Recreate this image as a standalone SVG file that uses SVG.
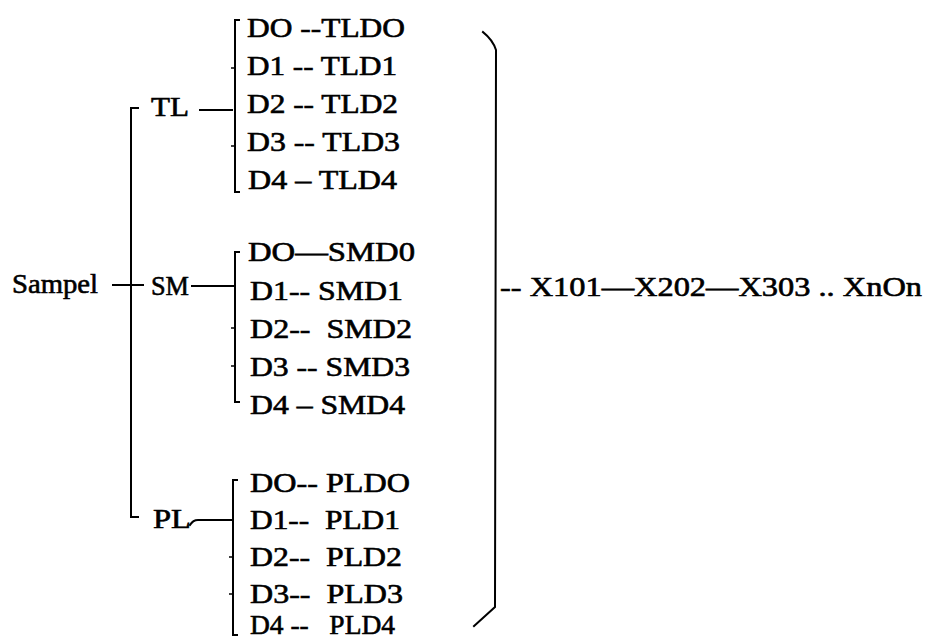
<svg xmlns="http://www.w3.org/2000/svg" width="927" height="637" viewBox="0 0 927 637">
  <style>
    text { font-family: "Liberation Serif", "Times New Roman", serif; font-size: 27px; fill: #000; stroke: #000; stroke-width: 0.6; white-space: pre; }
    .ln { fill: none; stroke: #000; stroke-width: 2; stroke-linecap: square; }
    .tk { fill: none; stroke: #000; stroke-width: 1.6; }
  </style>
  <rect width="927" height="637" fill="#fff"/>

  <!-- connectors: trunk, branch brackets and the closing brace -->
  <g id="connectors">
    <!-- main trunk from TL down to PL -->
    <path class="ln" d="M138 108 L131 108 L131 517 L138 517"/>
    <path class="ln" d="M113 285 L143 285"/>
    <!-- TL branch -->
    <path class="ln" d="M200 110 L232 110"/>
    <path class="ln" d="M239 20 L235 20 L235 192 L239 192"/>
    <path class="tk" d="M231 68 L235 68 M231 146 L235 146"/>
    <!-- SM branch -->
    <path class="ln" d="M192 286 L233 286"/>
    <path class="ln" d="M239 252 L235 252 L235 402 L239 402"/>
    <path class="tk" d="M231 328 L235 328 M231 366 L235 366"/>
    <!-- PL branch -->
    <path class="ln" d="M190 525 Q193 520 198 520 L233 520"/>
    <path class="ln" d="M237 480 L233 480 L233 635 L237 635"/>
    <path class="tk" d="M229 557 L233 557 M229 594 L233 594"/>
    <!-- closing brace -->
    <path class="ln" d="M483 32 Q493 40 496 50 L495 607 L474 626"/>
  </g>

  <g id="node-sampel"><text x="12" y="293" textLength="86" lengthAdjust="spacingAndGlyphs">Sampel</text></g>
  <g id="node-tl"><text x="151" y="116" textLength="38" lengthAdjust="spacingAndGlyphs">TL</text></g>
  <g id="node-sm"><text x="151" y="295" textLength="38" lengthAdjust="spacingAndGlyphs">SM</text></g>
  <g id="node-pl"><text x="153" y="528" textLength="38" lengthAdjust="spacingAndGlyphs">PL</text></g>

  <g id="node-tl-rows">
    <text x="247" y="37" textLength="158" lengthAdjust="spacingAndGlyphs">DO --TLDO</text>
    <text x="247" y="75" textLength="150" lengthAdjust="spacingAndGlyphs">D1 -- TLD1</text>
    <text x="247" y="113" textLength="151" lengthAdjust="spacingAndGlyphs">D2 -- TLD2</text>
    <text x="247" y="151" textLength="153" lengthAdjust="spacingAndGlyphs">D3 -- TLD3</text>
    <text x="248" y="189" textLength="149" lengthAdjust="spacingAndGlyphs">D4 – TLD4</text>
  </g>

  <g id="node-sm-rows">
    <text x="248" y="261" textLength="167" lengthAdjust="spacingAndGlyphs">DO—SMD0</text>
    <text x="250" y="300" textLength="153" lengthAdjust="spacingAndGlyphs">D1-- SMD1</text>
    <text x="250" y="338" textLength="162" lengthAdjust="spacingAndGlyphs">D2--  SMD2</text>
    <text x="250" y="376" textLength="160" lengthAdjust="spacingAndGlyphs">D3 -- SMD3</text>
    <text x="250" y="414" textLength="155" lengthAdjust="spacingAndGlyphs">D4 – SMD4</text>
  </g>

  <g id="node-pl-rows">
    <text x="250" y="492" textLength="160" lengthAdjust="spacingAndGlyphs">DO-- PLDO</text>
    <text x="250" y="529" textLength="150" lengthAdjust="spacingAndGlyphs">D1--  PLD1</text>
    <text x="250" y="566" textLength="152" lengthAdjust="spacingAndGlyphs">D2--  PLD2</text>
    <text x="250" y="603" textLength="153" lengthAdjust="spacingAndGlyphs">D3--  PLD3</text>
    <text x="250" y="634" textLength="145" lengthAdjust="spacingAndGlyphs">D4 --   PLD4</text>
  </g>

  <g id="node-sequence"><text x="500" y="296" textLength="422" lengthAdjust="spacingAndGlyphs">-- X101—X202—X303 .. XnOn</text></g>
</svg>
